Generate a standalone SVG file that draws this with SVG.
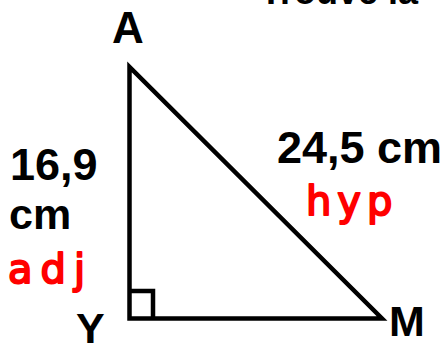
<svg xmlns="http://www.w3.org/2000/svg" width="446" height="343" viewBox="0 0 446 343">
<style>
.lbl{font-family:"Liberation Sans",Arial,sans-serif;font-weight:bold;fill:#000;}
.hand{font-family:"DejaVu Sans","Liberation Sans",sans-serif;fill:#ff0000;stroke:#ff0000;stroke-width:2;stroke-linejoin:round;}
.edge{fill:none;stroke:#000;stroke-width:4.5;stroke-linejoin:miter;stroke-miterlimit:20;}
</style>
<rect width="446" height="343" fill="#fff"/>
<text class="lbl" x="260" y="4" font-size="36">Trouve la</text>
<g id="connectors">
<polygon class="edge" points="129.5,67 129.5,318.5 382,318.5"/>
<polyline class="edge" points="129.5,291 153,291 153,318.5" stroke-width="3.5"/>
</g>
<g id="node-A"><text class="lbl" x="112" y="43" font-size="44">A</text></g>
<g id="node-Y"><text class="lbl" x="76" y="343" font-size="43">Y</text></g>
<g id="node-M"><text class="lbl" x="389" y="336" font-size="43">M</text></g>
<g id="label-adj">
<text class="lbl" x="10" y="180" font-size="45">16,9</text>
<text class="lbl" x="9" y="229" font-size="43">cm</text>
<text class="hand" x="8" y="283" font-size="40" letter-spacing="8">adj</text>
</g>
<g id="label-hyp">
<text class="lbl" x="277" y="163" font-size="45">24,5 cm</text>
<text class="hand" x="306" y="215" font-size="40" letter-spacing="6">hyp</text>
</g>
</svg>
